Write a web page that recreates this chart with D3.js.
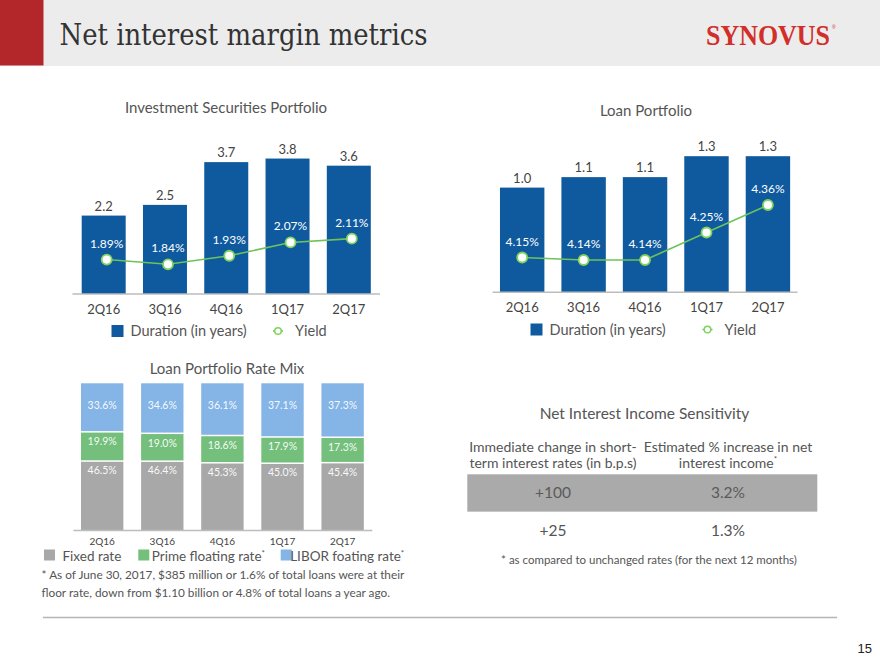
<!DOCTYPE html>
<html>
<head>
<meta charset="utf-8">
<script src="https://cdn.jsdelivr.net/npm/d3@7"></script>
<style>
  html, body { margin: 0; padding: 0; background: #fff; }
  svg { display: block; }
  text { font-family: Lato, "Open Sans", sans-serif; }
</style>
</head>
<body>
<svg id="chart" width="880" height="660"></svg>
<script>
// ---------------- DATA ----------------
const quarters = ["2Q16", "3Q16", "4Q16", "1Q17", "2Q17"];
const invDuration = [2.2, 2.5, 3.7, 3.8, 3.6];
const invYield = [1.89, 1.84, 1.93, 2.07, 2.11];
const loanDuration = [1.0, 1.1, 1.1, 1.3, 1.3];
const loanYield = [4.15, 4.14, 4.14, 4.25, 4.36];
const fixedRate = [46.5, 46.4, 45.3, 45.0, 45.4];
const primeRate = [19.9, 19.0, 18.6, 17.9, 17.3];
const liborRate = [33.6, 34.6, 36.1, 37.1, 37.3];
const mixSeries = ["Fixed rate", "Prime floating rate", "LIBOR foating rate"];
const sensitivityHeaders = [["Immediate change in short-", "term interest rates (in b.p.s)"], ["Estimated % increase in net", "interest income"]];
const sensitivityBps = ["+100", "+25"];
const sensitivityPct = ["3.2%", "1.3%"];

// ---------------- STYLE ----------------
const BLUE = "#0f5a9e";
const GREEN_LINE = "#6cc35a";
const GREEN_MARK = "#7fd35f";
const MIX_COLORS = ["#a8a8a8", "#73bf7b", "#84b5e6"];
const TXT = "#555";

const svg = d3.select("#chart");

// ---------------- HEADER ----------------
svg.append("rect").attr("x", 0).attr("y", 0).attr("width", 880).attr("height", 66).attr("fill", "#ececec");
svg.append("rect").attr("x", 0).attr("y", 0).attr("width", 43.5).attr("height", 65.5).attr("fill", "#b3262a");
svg.append("text").attr("x", 59.5).attr("y", 44.5)
  .style("font-family", "'DejaVu Serif Condensed', 'DejaVu Serif', serif")
  .attr("font-size", 29).attr("fill", "#333")
  .attr("textLength", 368).attr("lengthAdjust", "spacingAndGlyphs")
  .text("Net interest margin metrics");
svg.append("text").attr("transform", "translate(706,45) scale(0.895,1)")
  .style("font-family", "'Liberation Serif', serif").style("font-weight", "bold")
  .attr("font-size", 29).attr("fill", "#d22f2a")
  .text("SYNOVUS");
svg.append("text").attr("x", 832).attr("y", 29)
  .style("font-family", "'Liberation Sans', sans-serif")
  .attr("font-size", 5).attr("fill", "#d22f2a").text("®");

// ---------------- COMBO CHART ----------------
function comboChart(cfg) {
  const g = svg.append("g");
  const x = d3.scaleBand().domain(quarters).range(cfg.xRange)
    .paddingInner(cfg.padInner).paddingOuter(cfg.padOuter);
  const y = d3.scaleLinear().domain(cfg.yDomain).range(cfg.yRange);
  const yy = d3.scaleLinear().domain(cfg.y2Domain).range(cfg.y2Range);
  const base = y(0);

  g.append("text").attr("x", cfg.titleX).attr("y", cfg.titleY)
    .attr("text-anchor", "middle").attr("font-size", 15).attr("fill", TXT)
    .text(cfg.title);

  const data = quarters.map((q, i) => ({ q, d: cfg.duration[i], yl: cfg.yield[i] }));

  g.selectAll("rect.bar").data(data).join("rect").attr("class", "bar")
    .attr("x", d => x(d.q)).attr("width", x.bandwidth())
    .attr("y", d => y(d.d)).attr("height", d => base - y(d.d))
    .attr("fill", BLUE);

  g.selectAll("text.val").data(data).join("text").attr("class", "val")
    .attr("x", d => x(d.q) + x.bandwidth() / 2).attr("y", d => y(d.d) - 5)
    .attr("text-anchor", "middle").attr("font-size", 13).attr("fill", "#444")
    .text(d => d.d.toFixed(1));

  // axis
  const axis = g.append("g").attr("transform", `translate(0,${base})`)
    .call(d3.axisBottom(x).tickSize(0).tickPadding(0));
  axis.select(".domain").attr("stroke", "#bdbdbd").attr("stroke-width", 1.5)
    .attr("d", `M${cfg.xRange[0]},0H${cfg.xRange[1]}`);
  axis.selectAll(".tick text").attr("font-size", 13).attr("fill", "#444")
    .attr("dy", 0).attr("y", 20).style("font-family", "Lato, sans-serif");

  const cx = d => x(d.q) + x.bandwidth() / 2 + cfg.dotDx;
  const line = d3.line().x(cx).y(d => yy(d.yl));
  g.append("path").datum(data).attr("d", line)
    .attr("fill", "none").attr("stroke", GREEN_LINE).attr("stroke-width", 1.6);
  g.selectAll("circle.dot").data(data).join("circle").attr("class", "dot")
    .attr("cx", cx).attr("cy", d => yy(d.yl)).attr("r", 5)
    .attr("fill", "#fff").attr("stroke", GREEN_MARK).attr("stroke-width", 1.8);
  g.selectAll("text.yl").data(data).join("text").attr("class", "yl")
    .attr("x", cx).attr("y", d => yy(d.yl) - 12)
    .attr("text-anchor", "middle").attr("font-size", 12).attr("fill", "#fff")
    .text(d => d.yl.toFixed(2) + "%");

  // legend
  const L = cfg.legend;
  g.append("rect").attr("x", L.sqX).attr("y", L.y - 6).attr("width", 12).attr("height", 12).attr("fill", BLUE);
  g.append("text").attr("x", L.sqX + 19).attr("y", L.y + 5).attr("font-size", 14.5).attr("fill", TXT)
    .text("Duration (in years)");
  g.append("line").attr("x1", L.yX - 5).attr("x2", L.yX + 5).attr("y1", L.y).attr("y2", L.y)
    .attr("stroke", GREEN_LINE).attr("stroke-width", 1.5);
  g.append("circle").attr("cx", L.yX).attr("cy", L.y).attr("r", 3.3)
    .attr("fill", "#fff").attr("stroke", GREEN_MARK).attr("stroke-width", 1.5);
  g.append("text").attr("x", L.yX + 17).attr("y", L.y + 5).attr("font-size", 14.5).attr("fill", TXT)
    .text("Yield");
}

comboChart({
  title: "Investment Securities Portfolio", titleX: 226, titleY: 113,
  duration: invDuration, yield: invYield,
  xRange: [72.5, 380], padInner: 0.282, padOuter: 0.15,
  yDomain: [0, 4.5], yRange: [294, 133.6],
  y2Domain: [1.0, 2.5], y2Range: [344.1, 201.6],
  dotDx: 3,
  legend: { sqX: 111.5, y: 331, yX: 278 }
});

comboChart({
  title: "Loan Portfolio", titleX: 646, titleY: 116,
  duration: loanDuration, yield: loanYield,
  xRange: [492.6, 797.5], padInner: 0.277, padOuter: 0.12,
  yDomain: [0, 1.5], yRange: [292.3, 135.25],
  y2Domain: [4.0, 4.5], y2Range: [295, 170],
  dotDx: 0,
  legend: { sqX: 530.5, y: 329.5, yX: 707.5 }
});

// ---------------- STACKED MIX ----------------
(function () {
  const g = svg.append("g");
  const x = d3.scaleBand().domain(quarters).range([73, 371.8]).paddingInner(0.295).paddingOuter(0.133);
  const y = d3.scaleLinear().domain([0, 100]).range([530, 383.3]);
  g.append("text").attr("x", 227).attr("y", 373.5).attr("text-anchor", "middle")
    .attr("font-size", 15).attr("fill", TXT).text("Loan Portfolio Rate Mix");

  const rows = quarters.map((q, i) => ({ q, fixed: fixedRate[i], prime: primeRate[i], libor: liborRate[i] }));
  const keys = ["fixed", "prime", "libor"];
  const stack = d3.stack().keys(keys)(rows);
  const gap = 1.5;

  stack.forEach((layer, li) => {
    g.selectAll(null).data(layer).join("rect")
      .attr("x", d => x(d.data.q)).attr("width", x.bandwidth())
      .attr("y", d => y(d[1]))
      .attr("height", d => Math.max(0, y(d[0]) - y(d[1]) - (li === 0 ? 0 : gap)))
      .attr("fill", MIX_COLORS[li]);
    g.selectAll(null).data(layer).join("text")
      .attr("x", d => x(d.data.q) + x.bandwidth() / 2)
      .attr("y", d => y(d[1]) + (li === 2 ? 26 : 12.5))
      .attr("text-anchor", "middle").attr("font-size", 10.5).attr("fill", "#fff")
      .attr("fill-opacity", 0.95)
      .text(d => (d[1] - d[0]).toFixed(1) + "%");
  });

  const axis = g.append("g").attr("transform", `translate(0,${y(0)})`)
    .call(d3.axisBottom(x).tickSize(0).tickPadding(0));
  axis.select(".domain").attr("stroke", "#bdbdbd").attr("stroke-width", 1.5);
  axis.selectAll(".tick text").attr("font-size", 10).attr("fill", "#444")
    .attr("dy", 0).attr("y", 15).style("font-family", "Lato, sans-serif");

  // legend
  const legX = [44, 138.3, 280.7];
  mixSeries.forEach((name, i) => {
    g.append("rect").attr("x", legX[i]).attr("y", 549.5).attr("width", 11).attr("height", 11).attr("fill", MIX_COLORS[i]);
    const t = g.append("text").attr("x", legX[i] + (i === 0 ? 18.5 : (i === 1 ? 13.5 : 9.5))).attr("y", 561)
      .attr("font-size", 13.5).attr("fill", TXT).text(name);
    if (i > 0) t.append("tspan").attr("font-size", 8).attr("dy", -5).text("*");
  });

  g.append("text").attr("x", 41.5).attr("y", 578.5).attr("font-size", 11.8).attr("fill", TXT)
    .text("* As of June 30, 2017, $385 million or 1.6% of total loans were at their");
  g.append("text").attr("x", 41.5).attr("y", 597).attr("font-size", 11.8).attr("fill", TXT)
    .text("floor rate, down from $1.10 billion or 4.8% of total loans a year ago.");
})();

// ---------------- SENSITIVITY TABLE ----------------
(function () {
  const g = svg.append("g");
  const colX = d3.scalePoint().domain([0, 1]).range([553, 728]);
  g.append("text").attr("x", 644.5).attr("y", 419).attr("text-anchor", "middle")
    .attr("font-size", 15.5).attr("fill", TXT).text("Net Interest Income Sensitivity");
  sensitivityHeaders.forEach((lines, c) => {
    lines.forEach((ln, k) => {
      const t = g.append("text").attr("x", colX(c)).attr("y", 452 + k * 16)
        .attr("text-anchor", "middle").attr("font-size", 14).attr("fill", TXT).text(ln);
      if (c === 1 && k === 1) t.append("tspan").attr("font-size", 8).attr("dy", -6).text("*");
    });
  });
  const rowY = d3.scaleBand().domain(sensitivityBps).range([474.3, 549]).paddingInner(0);
  g.append("rect").attr("x", 467.3).attr("y", rowY("+100")).attr("width", 350).attr("height", rowY.bandwidth())
    .attr("fill", "#aaaaaa");
  sensitivityBps.forEach((b, i) => {
    const cy = rowY(b) + rowY.bandwidth() / 2 + 5.5;
    g.append("text").attr("x", colX(0)).attr("y", cy).attr("text-anchor", "middle")
      .attr("font-size", 15.5).attr("fill", i === 0 ? "#5a5a5a" : TXT).text(b);
    g.append("text").attr("x", colX(1)).attr("y", cy).attr("text-anchor", "middle")
      .attr("font-size", 15.5).attr("fill", i === 0 ? "#5a5a5a" : TXT).text(sensitivityPct[i]);
  });
  g.append("text").attr("x", 649).attr("y", 564).attr("text-anchor", "middle")
    .attr("font-size", 11.5).attr("fill", TXT)
    .text("* as compared to unchanged rates (for the next 12 months)");
})();

// ---------------- FOOTER ----------------
svg.append("line").attr("x1", 43).attr("x2", 837).attr("y1", 617.5).attr("y2", 617.5)
  .attr("stroke", "#b5b5b5").attr("stroke-width", 1.5);
svg.append("text").attr("x", 872).attr("y", 653).attr("text-anchor", "end")
  .style("font-family", "'Liberation Sans', sans-serif")
  .attr("font-size", 13).attr("fill", "#222").text("15");
</script>
</body>
</html>
